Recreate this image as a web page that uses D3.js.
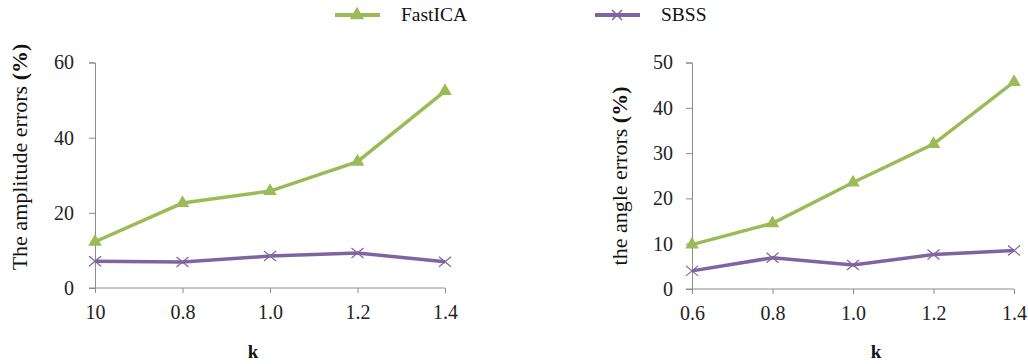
<!DOCTYPE html>
<html>
<head>
<meta charset="utf-8">
<script src="https://cdn.jsdelivr.net/npm/d3@7"></script>
<style>
  body { margin: 0; background: #fff; }
  svg text { font-family: "Liberation Serif", "Times New Roman", serif !important; }
</style>
</head>
<body>
<div id="chart"></div>
<script>
// chart data
var leftTicks = ["10", "0.8", "1.0", "1.2", "1.4"];
var rightTicks = ["0.6", "0.8", "1.0", "1.2", "1.4"];
var ampFastICA = [12.3, 22.6, 25.8, 33.6, 52.4];
var ampSBSS = [7.1, 6.9, 8.5, 9.3, 7.0];
var angFastICA = [9.8, 14.5, 23.5, 32.0, 45.7];
var angSBSS = [4.0, 6.9, 5.3, 7.6, 8.5];

var green = "#9BBB59";
var purple = "#8064A2";
var axisColor = "#8c8c8c";
var serif = "'Liberation Serif', 'Times New Roman', serif";

var svg = d3.select("#chart")
  .append("svg")
  .attr("width", 1028)
  .attr("height", 364)
  .attr("font-family", serif);

// Legend
var legend = svg.append("g");
legend.append("line")
  .attr("x1", 335).attr("x2", 380).attr("y1", 15).attr("y2", 15)
  .attr("stroke", green).attr("stroke-width", 4);
legend.append("path")
  .attr("d", d3.symbol(d3.symbolTriangle, 90)())
  .attr("transform", "translate(357,15)")
  .attr("fill", green);
legend.append("text")
  .attr("x", 401).attr("y", 21)
  .attr("font-size", 19.5).attr("fill", "#111")
  .text("FastICA");
legend.append("line")
  .attr("x1", 595).attr("x2", 640).attr("y1", 15).attr("y2", 15)
  .attr("stroke", purple).attr("stroke-width", 4);
legend.append("path")
  .attr("d", "M-5,-5L5,5M-5,5L5,-5")
  .attr("transform", "translate(617,15)")
  .attr("stroke", purple).attr("stroke-width", 1.5);
legend.append("text")
  .attr("x", 661).attr("y", 21)
  .attr("font-size", 19.5).attr("fill", "#111")
  .text("SBSS");

function drawPanel(opts) {
  var g = svg.append("g");

  var x = d3.scalePoint()
    .domain(d3.range(opts.ticks.length))
    .range([opts.x0, opts.x1]);

  var y = d3.scaleLinear()
    .domain([0, opts.yMax])
    .range([opts.y0, opts.y1]);

  // y axis
  var yAxis = d3.axisLeft(y).tickValues(d3.range(0, opts.yMax + 1, opts.yStep))
    .tickSize(6).tickPadding(opts.yPad);
  var ya = g.append("g")
    .attr("transform", `translate(${opts.x0},0)`)
    .call(yAxis)
    .attr("font-family", serif)
    .attr("font-size", 20);
  ya.select(".domain").attr("stroke", axisColor);
  ya.selectAll(".tick line").attr("stroke", axisColor);
  ya.selectAll(".tick text").attr("fill", "#222");

  // x axis
  var xAxis = d3.axisBottom(x).tickFormat(i => opts.ticks[i])
    .tickSize(5).tickSizeOuter(0).tickPadding(12);
  var xa = g.append("g")
    .attr("transform", `translate(0,${opts.y0})`)
    .call(xAxis)
    .attr("font-family", serif)
    .attr("font-size", 20);
  xa.select(".domain").attr("stroke", axisColor)
    .attr("d", `M${opts.x0 - 6},0H${opts.x1}`);
  xa.selectAll(".tick line").attr("stroke", axisColor);
  xa.selectAll(".tick text").attr("fill", "#222");

  var line = d3.line()
    .x((d, i) => x(i))
    .y(d => y(d));

  // SBSS
  g.append("path")
    .datum(opts.sbss)
    .attr("fill", "none")
    .attr("stroke", purple)
    .attr("stroke-width", 3.5)
    .attr("d", line);
  g.selectAll(".xmark")
    .data(opts.sbss)
    .enter()
    .append("path")
    .attr("class", "xmark")
    .attr("d", "M-6,-5L6,5M-6,5L6,-5")
    .attr("transform", (d, i) => `translate(${x(i)},${y(d)})`)
    .attr("stroke", purple).attr("stroke-width", 1.2)
    .attr("fill", "none");

  // FastICA
  g.append("path")
    .datum(opts.fast)
    .attr("fill", "none")
    .attr("stroke", green)
    .attr("stroke-width", 3.5)
    .attr("d", line);
  g.selectAll(".tri")
    .data(opts.fast)
    .enter()
    .append("path")
    .attr("class", "tri")
    .attr("d", d3.symbol(d3.symbolTriangle, 80)())
    .attr("transform", (d, i) => `translate(${x(i)},${y(d)})`)
    .attr("fill", green);

  // axis labels
  var lbl = g.append("text")
    .attr("transform", `translate(${opts.labelX},${opts.labelY}) rotate(-90)`)
    .attr("text-anchor", "middle")
    .attr("font-size", 22)
    .attr("fill", "#111");
  lbl.append("tspan").text(opts.yLabel + " ");
  lbl.append("tspan").attr("font-weight", "bold").text("(%)");

  g.append("text")
    .attr("x", opts.kX).attr("y", 358)
    .attr("text-anchor", "middle")
    .attr("font-size", 19)
    .attr("font-weight", "bold")
    .attr("fill", "#111")
    .text("k");
}

drawPanel({
  ticks: leftTicks, fast: ampFastICA, sbss: ampSBSS,
  x0: 95, x1: 445, y0: 288, y1: 62.5, yMax: 60, yStep: 20, yPad: 15,
  yLabel: "The amplitude errors", labelX: 27, labelY: 157, kX: 253
});

drawPanel({
  ticks: rightTicks, fast: angFastICA, sbss: angSBSS,
  x0: 692, x1: 1014, y0: 289, y1: 62.5, yMax: 50, yStep: 10, yPad: 13,
  yLabel: "the angle errors", labelX: 627, labelY: 176, kX: 876
});
</script>
</body>
</html>
